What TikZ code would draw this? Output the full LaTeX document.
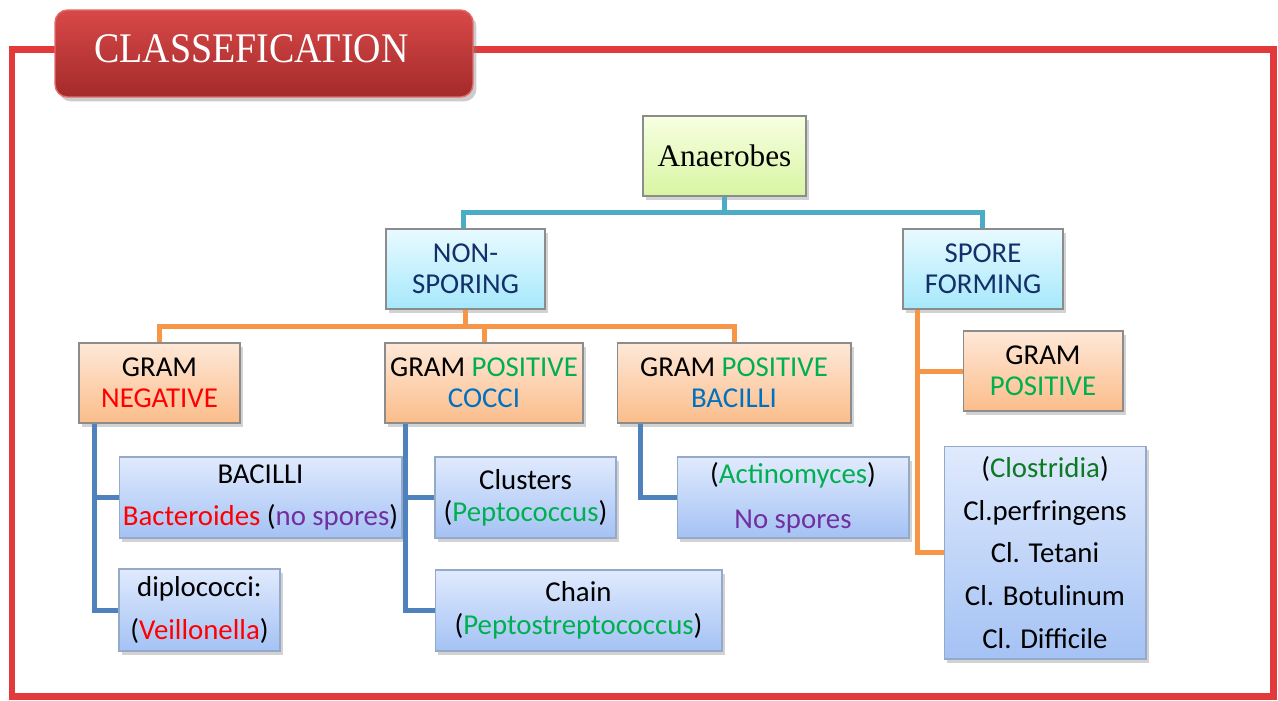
\documentclass[tikz,border=0pt]{standalone}
\usepackage{fontspec}
\setmainfont{Liberation Serif}
\setsansfont{Carlito}
\usetikzlibrary{shadows}
\definecolor{framered}{HTML}{E23A3A}
\definecolor{titletop}{HTML}{D84848}
\definecolor{titlebot}{HTML}{A42A2A}
\definecolor{tealline}{HTML}{4BACC6}
\definecolor{orangeline}{HTML}{F79646}
\definecolor{blueline}{HTML}{4F81BD}
\definecolor{navy}{HTML}{14306A}
\definecolor{cred}{HTML}{FF0000}
\definecolor{cgreen}{HTML}{00B050}
\definecolor{cdgreen}{HTML}{0B7A22}
\definecolor{cblue}{HTML}{0070C0}
\definecolor{cpurple}{HTML}{7030A0}
\definecolor{boxgray}{HTML}{8C8C8C}
\definecolor{bluebord}{HTML}{95A9C8}
\definecolor{bluetop}{HTML}{E0EAFD}
\definecolor{bluebot}{HTML}{A4C2F4}
\definecolor{cyantop}{HTML}{E8FAFF}
\definecolor{cyanbot}{HTML}{A6E8FB}
\definecolor{orangetop}{HTML}{FEE8D8}
\definecolor{orangebot}{HTML}{FBBD8A}
\definecolor{greentop}{HTML}{F7FFE2}
\definecolor{greenbot}{HTML}{D8F5A2}
\begin{document}
\begin{tikzpicture}[x=0.02cm,y=-0.02cm,
  shad/.style={drop shadow={opacity=0.35,shadow xshift=1.5pt,shadow yshift=-2pt}},
  box/.style={draw=boxgray, line width=0.6pt, inner sep=0pt, align=center, shad,
    font=\sffamily\fontsize{16.4}{17.6}\selectfont},
  cyanbox/.style={box, top color=cyantop, bottom color=cyanbot, text=navy},
  orangebox/.style={box, top color=orangetop, bottom color=orangebot},
  bluebox/.style={box, draw=bluebord, top color=bluetop, bottom color=bluebot},
  greenbox/.style={box, top color=greentop, bottom color=greenbot,
    font=\rmfamily\fontsize{17.8}{20}\selectfont},
  conn/.style={line width=0.1cm},
  tconn/.style={conn, draw=tealline},
  oconn/.style={conn, draw=orangeline},
  bconn/.style={conn, draw=blueline}
]
\useasboundingbox (0,0) rectangle (1278,700);
\fill[white] (0,0) rectangle (1278,700);
% frame
\draw[framered, line width=0.14cm] (12,49) rectangle (1273,696);
% title
\node[rounded corners=0.25cm, top color=titletop, bottom color=titlebot, draw=titletop!80!white,
  line width=0.8pt, minimum width=8.36cm, minimum height=1.74cm, inner sep=0pt,
  drop shadow={opacity=0.4,shadow xshift=2pt,shadow yshift=-2.5pt}] (title) at (264,53.5) {};
\node[anchor=west, text=white, font=\rmfamily\fontsize{24}{26}\selectfont, inner sep=0pt]
  (titletext) at (94,49) {\scalebox{0.9}[1]{CLASSEFICATION}};

% nodes
\node[greenbox, minimum width=3.26cm, minimum height=1.6cm] (anaer) at (724.5,156) {Anaerobes};
\node[cyanbox, minimum width=3.18cm, minimum height=1.6cm] (nonsp) at (465.5,269) {NON-\\SPORING};
\node[cyanbox, minimum width=3.2cm, minimum height=1.6cm] (spore) at (983,269) {SPORE\\FORMING};
\node[orangebox, minimum width=3.22cm, minimum height=1.6cm] (gneg) at (159.5,383)
  {GRAM\\\textcolor{cred}{NEGATIVE}};
\node[orangebox, minimum width=3.96cm, minimum height=1.6cm] (gpc) at (484,383)
  {GRAM \textcolor{cgreen}{POSITIVE}\\\textcolor{cblue}{COCCI}};
\node[orangebox, minimum width=4.68cm, minimum height=1.6cm] (gpb) at (734,383)
  {GRAM \textcolor{cgreen}{POSITIVE}\\\textcolor{cblue}{BACILLI}};
\node[orangebox, minimum width=3.2cm, minimum height=1.6cm] (gpos) at (1043,371)
  {GRAM\\\textcolor{cgreen}{POSITIVE}};
\node[bluebox, minimum width=4.04cm, minimum height=4.26cm,
  font=\sffamily\fontsize{16.4}{24.4}\selectfont] (clost) at (1045,552.5)
  {(\textcolor{cdgreen}{Clostridia})\\Cl.perfringens\\Cl. Tetani\\Cl. Botulinum\\Cl. Difficile};
\node[bluebox, minimum width=5.66cm, minimum height=1.62cm,
  font=\sffamily\fontsize{16.4}{24}\selectfont] (bacil) at (260.5,497.5)
  {BACILLI\\\textcolor{cred}{Bacteroides} (\textcolor{cpurple}{no spores})};
\node[bluebox, minimum width=3.22cm, minimum height=1.64cm,
  font=\sffamily\fontsize{16.4}{24.4}\selectfont] (diplo) at (199.5,610)
  {diplococci:\\(\textcolor{cred}{Veillonella})};
\node[bluebox, minimum width=3.62cm, minimum height=1.62cm,
  font=\sffamily\fontsize{16.4}{18.4}\selectfont] (clus) at (525.5,497.5)
  {Clusters\\(\textcolor{cgreen}{Peptococcus})};
\node[bluebox, minimum width=5.74cm, minimum height=1.62cm,
  font=\sffamily\fontsize{16.4}{18.7}\selectfont] (chain) at (578.5,610.5)
  {Chain\\(\textcolor{cgreen}{Peptostreptococcus})};
\node[bluebox, minimum width=4.64cm, minimum height=1.62cm,
  font=\sffamily\fontsize{16.4}{25.5}\selectfont] (actino) at (793,497.5)
  {(\textcolor{cgreen}{Actinomyces})\\\textcolor{cpurple}{No spores}};

% connectors
\coordinate (ty) at (0,212);
\coordinate (oy) at (0,326);
\draw[tconn] (anaer.south) -- (anaer.south |- ty) -| ([xshift=-0.05cm]nonsp.north);
\draw[tconn] (anaer.south |- ty) -| ([xshift=-0.02cm]spore.north);
\draw[oconn] (nonsp.south) -- (nonsp.south |- oy) -| (gneg.north);
\draw[oconn] (nonsp.south |- oy) -| (gpc.north);
\draw[oconn] (nonsp.south |- oy) -| (gpb.north);
\coordinate (sp0) at ([xshift=0.3cm]spore.south west);
\draw[oconn] (sp0) |- (gpos.west);
\draw[oconn] (sp0) |- (clost.west);
\coordinate (gn0) at ([xshift=0.32cm]gneg.south west);
\draw[bconn] (gn0) |- (bacil.west);
\draw[bconn] (gn0) |- (diplo.west);
\coordinate (gc0) at ([xshift=0.42cm]gpc.south west);
\draw[bconn] (gc0) |- (clus.west);
\draw[bconn] (gc0) |- (chain.west);
\coordinate (gb0) at ([xshift=0.48cm]gpb.south west);
\draw[bconn] (gb0) |- (actino.west);
\end{tikzpicture}
\end{document}
